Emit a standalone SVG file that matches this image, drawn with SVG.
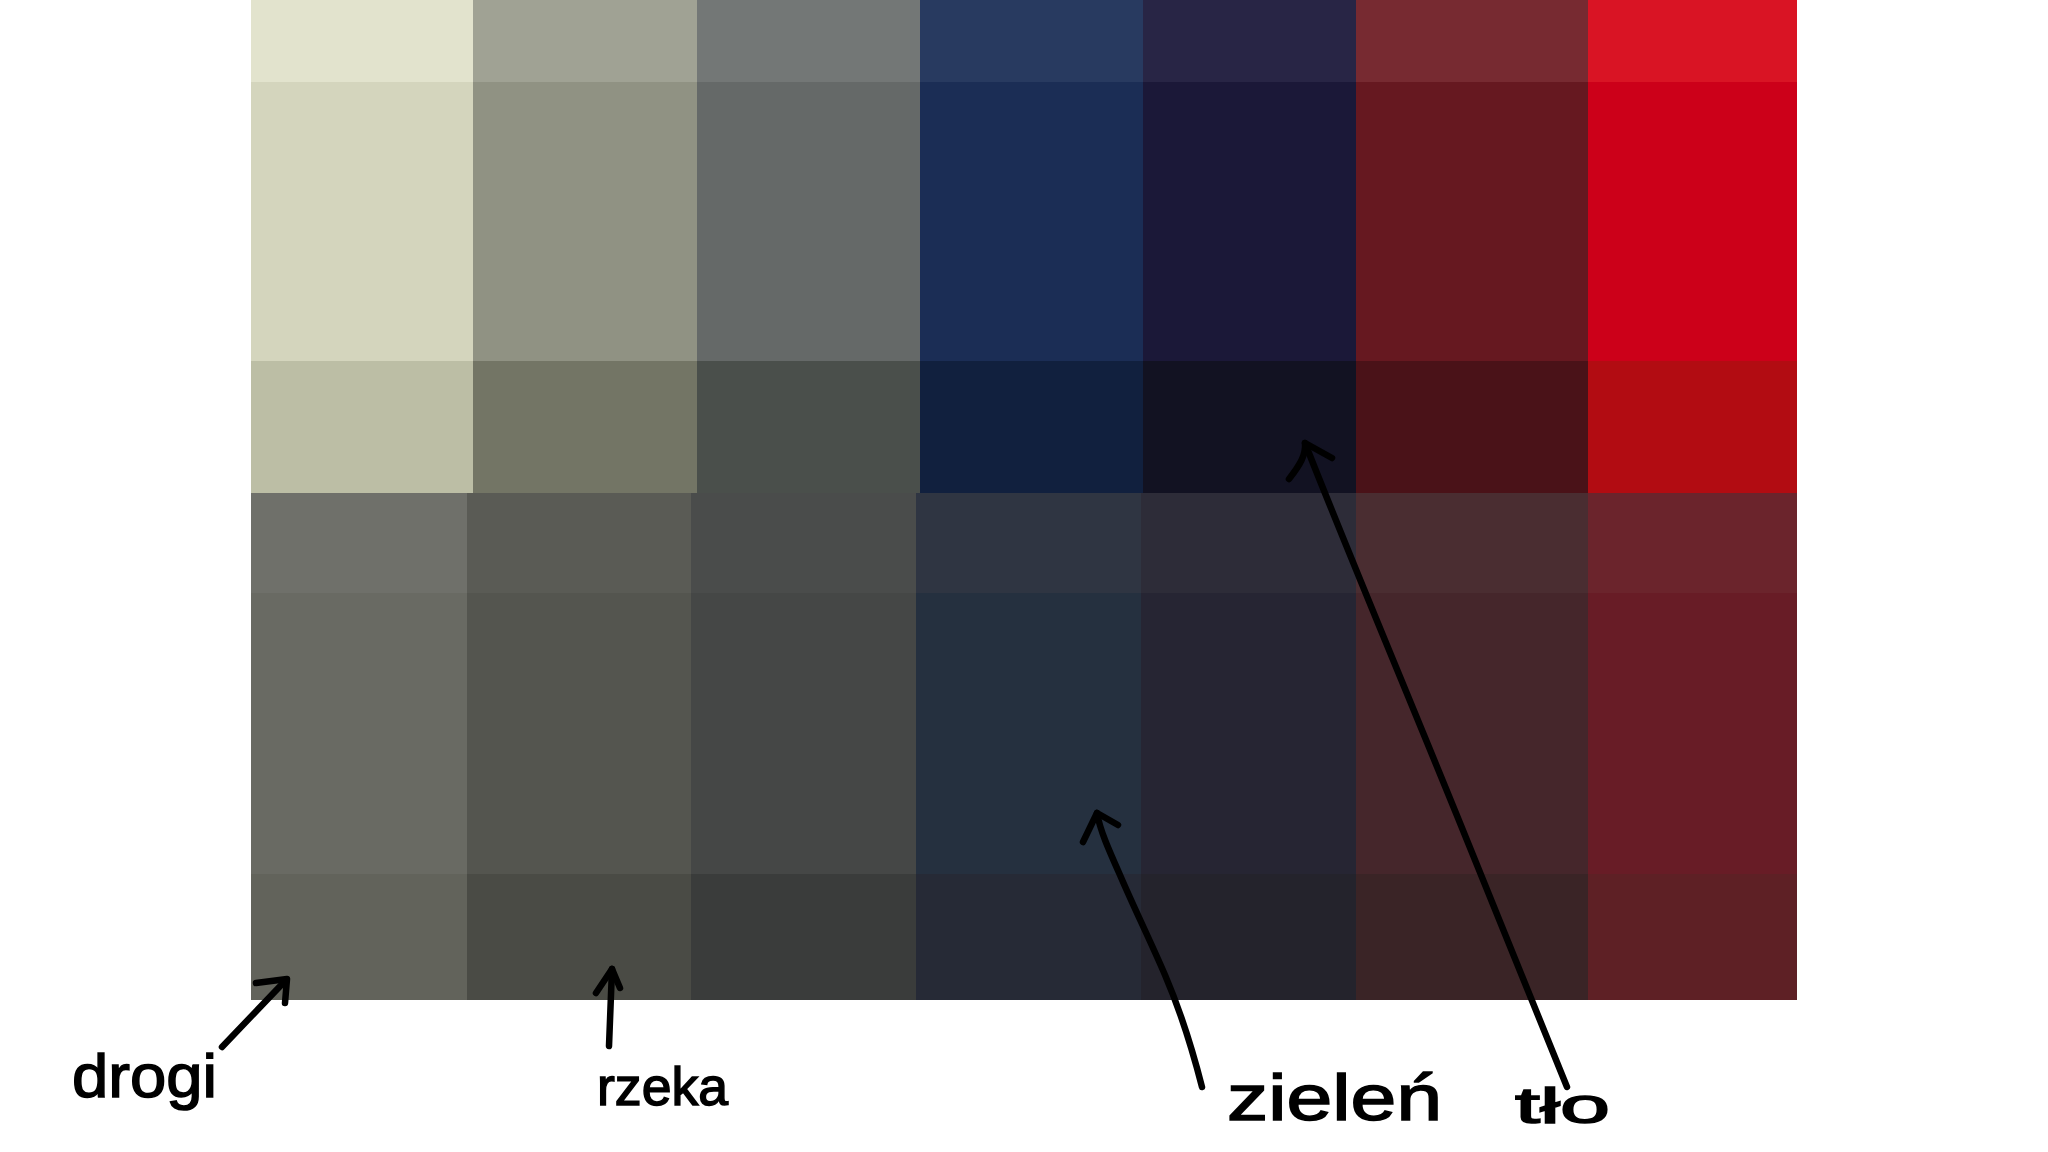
<svg xmlns="http://www.w3.org/2000/svg" width="2048" height="1152" viewBox="0 0 2048 1152">
<style>
.ink{fill:none;stroke:#000;stroke-width:6.5;stroke-linecap:round;stroke-linejoin:round}
.lbl{font-family:"Liberation Sans","DejaVu Sans",sans-serif;fill:#000;stroke:#000;stroke-width:1.5}
</style>
<rect width="2048" height="1152" fill="#fff"/>
<g id="palette-top">
<rect x="251" y="0" width="222" height="82" fill="#e2e3cd"/>
<rect x="473" y="0" width="224" height="82" fill="#a0a294"/>
<rect x="697" y="0" width="223" height="82" fill="#737776"/>
<rect x="920" y="0" width="223" height="82" fill="#283a60"/>
<rect x="1143" y="0" width="213" height="82" fill="#282545"/>
<rect x="1356" y="0" width="232" height="82" fill="#772a31"/>
<rect x="1588" y="0" width="209" height="82" fill="#d91424"/>
<rect x="251" y="82" width="222" height="279" fill="#d4d5bd"/>
<rect x="473" y="82" width="224" height="279" fill="#909283"/>
<rect x="697" y="82" width="223" height="279" fill="#656968"/>
<rect x="920" y="82" width="223" height="279" fill="#1b2d55"/>
<rect x="1143" y="82" width="213" height="279" fill="#1b1838"/>
<rect x="1356" y="82" width="232" height="279" fill="#661820"/>
<rect x="1588" y="82" width="209" height="279" fill="#cc0019"/>
<rect x="251" y="361" width="222" height="132" fill="#bcbea5"/>
<rect x="473" y="361" width="224" height="132" fill="#737565"/>
<rect x="697" y="361" width="223" height="132" fill="#4a4f4b"/>
<rect x="920" y="361" width="223" height="132" fill="#11203e"/>
<rect x="1143" y="361" width="213" height="132" fill="#121222"/>
<rect x="1356" y="361" width="232" height="132" fill="#4a1218"/>
<rect x="1588" y="361" width="209" height="132" fill="#b20c12"/>
</g>
<g id="palette-bottom">
<rect x="251" y="493" width="216" height="100" fill="#6f706a"/>
<rect x="467" y="493" width="224" height="100" fill="#5a5b55"/>
<rect x="691" y="493" width="225" height="100" fill="#4a4c4b"/>
<rect x="916" y="493" width="225" height="100" fill="#2f3542"/>
<rect x="1141" y="493" width="215" height="100" fill="#2d2c38"/>
<rect x="1356" y="493" width="232" height="100" fill="#4a2d31"/>
<rect x="1588" y="493" width="209" height="100" fill="#6b242c"/>
<rect x="251" y="593" width="216" height="281" fill="#696a63"/>
<rect x="467" y="593" width="224" height="281" fill="#54554f"/>
<rect x="691" y="593" width="225" height="281" fill="#454746"/>
<rect x="916" y="593" width="225" height="281" fill="#25303f"/>
<rect x="1141" y="593" width="215" height="281" fill="#262533"/>
<rect x="1356" y="593" width="232" height="281" fill="#45262b"/>
<rect x="1588" y="593" width="209" height="281" fill="#681c26"/>
<rect x="251" y="874" width="216" height="126" fill="#62635b"/>
<rect x="467" y="874" width="224" height="126" fill="#4a4b45"/>
<rect x="691" y="874" width="225" height="126" fill="#3a3c3b"/>
<rect x="916" y="874" width="225" height="126" fill="#262a36"/>
<rect x="1141" y="874" width="215" height="126" fill="#24232c"/>
<rect x="1356" y="874" width="232" height="126" fill="#3a2426"/>
<rect x="1588" y="874" width="209" height="126" fill="#5e2025"/>
</g>
<g id="connectors">
<path class="ink" d="M222,1047 L286,980"/>
<path class="ink" d="M256,983 L287,979 L285,1003"/>
<path class="ink" d="M609,1046 L612,969"/>
<path class="ink" d="M596,993 L612,969 L620,988"/>
<path class="ink" d="M1202,1087 C1190,1040 1180,1010 1165,975 C1150,940 1135,910 1120,875 C1108,848 1100,830 1097,813"/>
<path class="ink" d="M1083,842 L1097,813 L1118,825"/>
<path class="ink" d="M1567,1087 L1460,823 C1410,700 1345,545 1305,443"/>
<path class="ink" d="M1289,479 C1300,465 1306,455 1305,443 L1332,458"/>
</g>
<g id="label-drogi"><text class="lbl" x="72" y="1097" font-size="62" textLength="145" lengthAdjust="spacingAndGlyphs">drogi</text></g>
<g id="label-rzeka"><text class="lbl" x="597" y="1105" font-size="54" textLength="131" lengthAdjust="spacingAndGlyphs">rzeka</text></g>
<g id="label-zielen"><text class="lbl" x="1227" y="1120" font-size="64" textLength="215" lengthAdjust="spacingAndGlyphs">zieleń</text></g>
<g id="label-tlo"><text class="lbl" x="1515" y="1123" font-size="50" textLength="95" lengthAdjust="spacingAndGlyphs">tło</text></g>
</svg>
